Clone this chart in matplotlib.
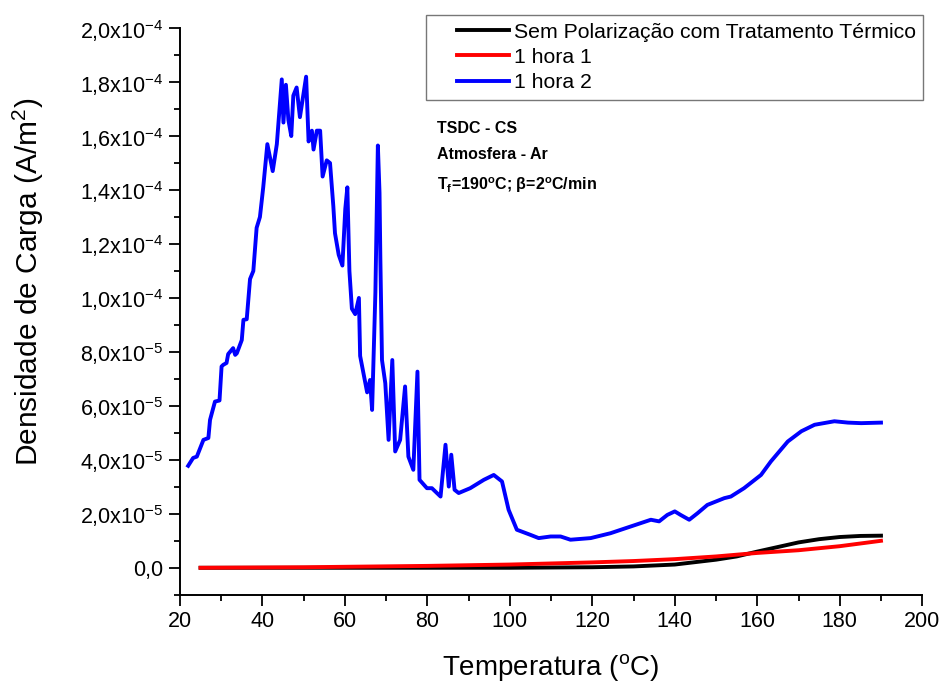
import matplotlib
matplotlib.use("Agg")
import math
import matplotlib.pyplot as plt
from matplotlib.ticker import MultipleLocator, FuncFormatter
from matplotlib.legend_handler import HandlerLine2D

plt.rcParams['font.family'] = ['Liberation Sans', 'DejaVu Sans']
plt.rcParams['mathtext.fontset'] = 'custom'
plt.rcParams['mathtext.rm'] = 'Liberation Sans'
plt.rcParams['mathtext.it'] = 'Liberation Sans:italic'
plt.rcParams['mathtext.bf'] = 'Liberation Sans:bold'

# ---- data ----
blue_T = [22.0, 23.2, 24.1, 25.7, 26.9, 27.3, 28.5, 29.6, 30.1, 30.5, 31.3, 31.7, 32.9, 33.4, 33.8,
          35.0, 35.4, 36.2, 37.0, 37.8, 38.6, 39.4, 40.2, 41.2, 42.5, 43.5, 43.9, 44.7, 45.1,
          45.7, 46.3, 47.0, 47.5, 48.3, 49.1, 50.6, 51.2, 52.0, 52.4, 53.2, 54.0, 54.6, 55.6,
          56.4, 57.2, 57.6, 58.5, 59.4, 60.1, 60.6, 61.1, 61.7, 62.5, 63.4, 63.7, 65.4, 66.1,
          66.6, 67.4, 68.0, 68.4, 68.6, 69.0, 69.8, 70.6, 71.5, 72.2, 73.4, 74.6, 75.4, 76.6,
          77.6, 78.1, 79.9, 81.1, 83.2, 84.4, 85.2, 85.8, 86.6, 87.6, 90.4, 93.7, 96.1, 98.1,
          99.7, 101.7, 105.0, 107.0, 109.9, 112.3, 114.7, 119.6, 124.4, 129.3, 134.2, 136.2,
          138.2, 140.0, 141.4, 143.5, 145.5, 147.9, 152.0, 153.6, 156.8, 160.9, 163.3, 167.4,
          170.7, 173.9, 178.7, 182.0, 185.2, 190.0]
blue_J = [3.78, 4.07, 4.12, 4.74, 4.81, 5.48, 6.16, 6.2, 7.46, 7.52, 7.59, 7.92, 8.14, 7.89, 7.95,
          8.44, 9.19, 9.21, 10.7, 11.0, 12.6, 13.0, 14.1, 15.7, 14.7, 15.7, 16.5, 18.1, 16.5,
          17.9, 16.6, 16.0, 17.5, 17.8, 16.7, 18.2, 15.8, 16.2, 15.5, 16.2, 16.2, 14.5, 15.1,
          15.0, 13.4, 12.4, 11.6, 11.2, 13.3, 14.1, 11.0, 9.6, 9.4, 10.0, 7.85, 6.5, 6.96,
          5.85, 10.2, 15.65, 13.9, 11.5, 7.7, 6.84, 4.74, 7.7, 4.31, 4.74, 6.72, 4.12, 3.63,
          7.27, 3.26, 2.95, 2.95, 2.64, 4.56, 3.01, 4.19, 2.89, 2.77, 2.95, 3.26, 3.44, 3.2,
          2.15, 1.41, 1.22, 1.1, 1.16, 1.16, 1.04, 1.1, 1.28, 1.53, 1.78, 1.72,
          1.96, 2.09, 1.96, 1.78, 2.02, 2.33, 2.58, 2.64, 2.95, 3.44, 3.94, 4.68,
          5.06, 5.3, 5.43, 5.38, 5.36, 5.38]

black_T = [25, 60, 100, 120, 130, 140, 150, 155, 160, 165, 170, 175, 180, 185, 190]
black_J = [0.0, 0.0, 0.0, 0.02, 0.05, 0.12, 0.3, 0.42, 0.6, 0.77, 0.94, 1.06, 1.14, 1.18, 1.19]

red_T = [25, 50, 80, 100, 120, 130, 140, 150, 160, 170, 180, 190]
red_J = [0.0, 0.02, 0.07, 0.12, 0.2, 0.25, 0.32, 0.42, 0.55, 0.65, 0.8, 1.0]

labels = ['Sem Polarização com Tratamento Térmico', '1 hora 1', '1 hora 2']
scale = 1e-5


class ShortLineHandler(HandlerLine2D):
    """Draw the legend line only in the right part of the handle box."""
    def create_artists(self, legend, orig_handle, xdescent, ydescent, width, height,
                       fontsize, trans):
        artists = super().create_artists(legend, orig_handle, xdescent, ydescent, width,
                                         height, fontsize, trans)
        for a in artists:
            xd = list(a.get_xdata())
            if len(xd) >= 2:
                x0, x1 = xd[0], xd[-1]
                a.set_xdata([x0 + (x1 - x0) * 0.32, x1])
                a.set_ydata([a.get_ydata()[0]] * 2)
        return artists


fig = plt.figure(figsize=(9.42, 6.86), dpi=100)
ax = fig.add_axes([0.191, 0.133, 0.788, 0.826])

l1, = ax.plot(black_T, [v * scale for v in black_J], color='black', lw=2.8, label=labels[0])
l2, = ax.plot(red_T, [v * scale for v in red_J], color='red', lw=2.8, label=labels[1])
l3, = ax.plot(blue_T, [v * scale for v in blue_J], color='blue', lw=2.8, label=labels[2])

ax.set_xlim(20, 200)
ax.set_ylim(-1e-5, 2e-4)
ax.xaxis.set_major_locator(MultipleLocator(20))
ax.xaxis.set_minor_locator(MultipleLocator(10))
ax.yaxis.set_major_locator(MultipleLocator(2e-5))
ax.yaxis.set_minor_locator(MultipleLocator(1e-5))


def yfmt(v, pos):
    if abs(v) < 1e-12:
        return '0,0'
    e = int(math.floor(math.log10(abs(v)) + 1e-9))
    m = v / 10 ** e
    return ('%.1f' % m).replace('.', ',') + 'x10$^{\\mathregular{%d}}$' % e


ax.yaxis.set_major_formatter(FuncFormatter(yfmt))
ax.xaxis.set_major_formatter(FuncFormatter(lambda v, p: '%d' % v))

for s in ['top', 'right']:
    ax.spines[s].set_visible(False)
for s in ['left', 'bottom']:
    ax.spines[s].set_linewidth(1.4)
ax.tick_params(which='major', direction='out', length=8, width=1.3, labelsize=15.5, pad=4)
ax.tick_params(which='minor', direction='out', length=4.5, width=1.3)

ax.set_xlabel('Temperatura ($^\\mathregular{o}$C)', fontsize=20, labelpad=14)
ax.set_ylabel('Densidade de Carga (A/m$^\\mathregular{2}$)', fontsize=21.5)
ax.yaxis.set_label_coords(-0.18, 0.552)

hm = {l1: ShortLineHandler(), l2: ShortLineHandler(), l3: ShortLineHandler()}
leg = fig.legend(handles=[l1, l2, l3], loc='upper right', bbox_to_anchor=(0.98, 0.978),
                 fontsize=15.3, frameon=True, fancybox=False, handlelength=3.6,
                 handletextpad=0.2, borderpad=0.35, labelspacing=0.3, borderaxespad=0,
                 handler_map=hm)
leg.get_frame().set_edgecolor('#555555')
leg.get_frame().set_linewidth(1.0)

ax.text(0.464, 0.806, 'TSDC - CS', transform=fig.transFigure, fontsize=11.5, fontweight='bold')
ax.text(0.464, 0.768, 'Atmosfera - Ar', transform=fig.transFigure, fontsize=11.5, fontweight='bold')
ax.text(0.464, 0.723, 'T$_\\mathregular{f}$=190$^\\mathregular{o}$C; β=2$^\\mathregular{o}$C/min',
        transform=fig.transFigure, fontsize=11.5, fontweight='bold')

fig.savefig('out.png', dpi=100)
